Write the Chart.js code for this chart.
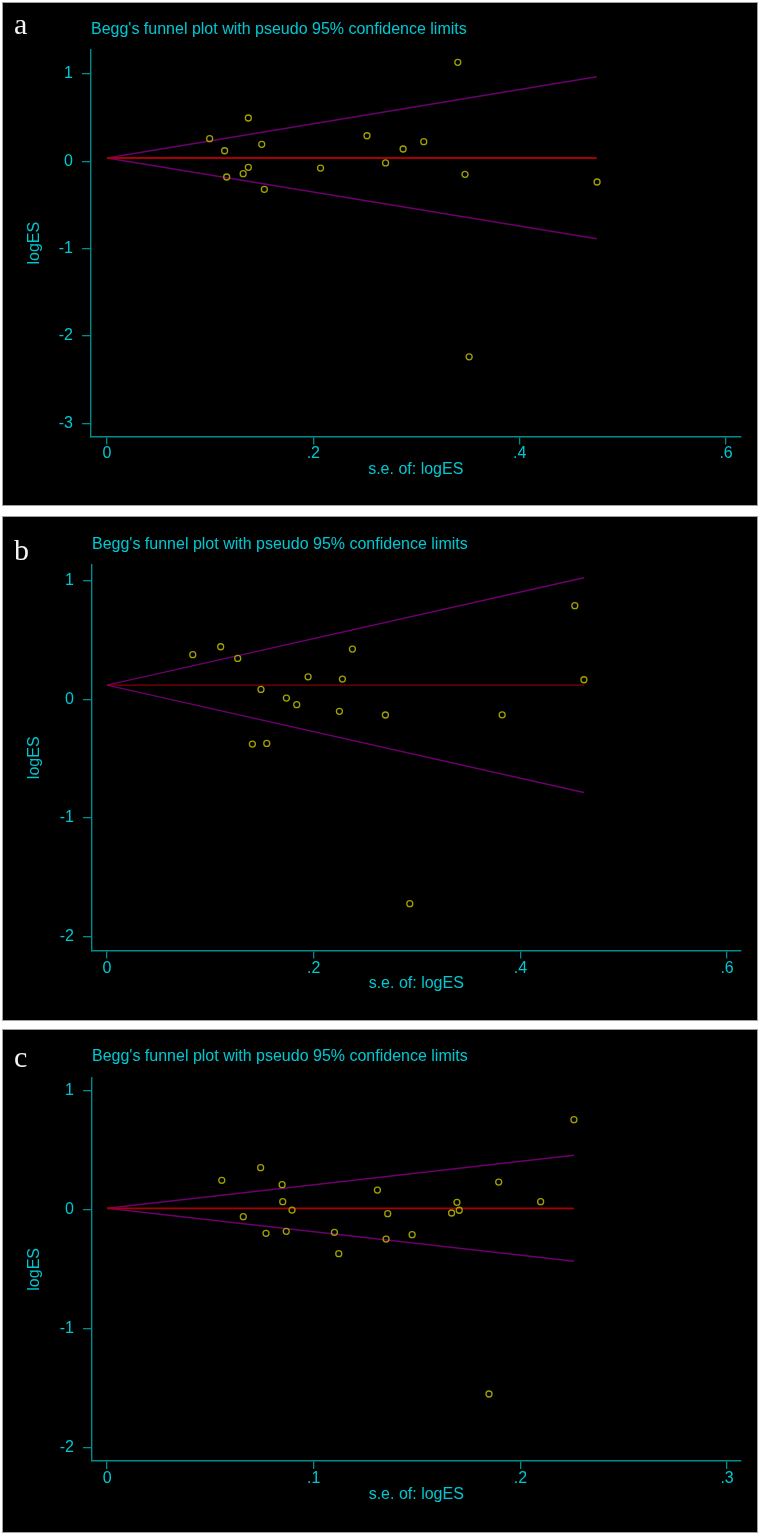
<!DOCTYPE html>
<html>
<head>
<meta charset="utf-8">
<script src="https://cdn.jsdelivr.net/npm/chart.js@4.4.1/dist/chart.umd.min.js"></script>
<style>
  body { margin: 0; background: #fff; width: 759px; height: 1534px; position: relative; overflow: hidden; }
  .panel { position: absolute; left: 2px; width: 754px; background: #000; border: 1px solid #a0a0a0; }
  canvas { position: absolute; left: 3px; }
  .letter { position: absolute; color: #f4f4f4; font-family: 'Liberation Serif', 'Times New Roman', serif; font-size: 30px; line-height: 30px; }
</style>
</head>
<body>
<div class="panel" style="top:2px;height:502px"></div>
<div class="panel" style="top:516px;height:503px"></div>
<div class="panel" style="top:1029px;height:502px"></div>
<canvas id="chartA" width="754" height="502" style="top:3px"></canvas>
<canvas id="chartB" width="754" height="503" style="top:517px"></canvas>
<canvas id="chartC" width="754" height="502" style="top:1030px"></canvas>
<div class="letter" style="left:14px;top:9px">a</div>
<div class="letter" style="left:14px;top:535px">b</div>
<div class="letter" style="left:14px;top:1042px">c</div>
<script>
// panel a
var seA = [0.0995, 0.114, 0.137, 0.150, 0.116, 0.132, 0.137, 0.1525, 0.207, 0.252, 0.340, 0.287, 0.307, 0.270, 0.347, 0.475, 0.351];
var esA = [0.259, 0.121, 0.496, 0.195, -0.180, -0.142, -0.069, -0.321, -0.077, 0.293, 1.134, 0.141, 0.225, -0.019, -0.149, -0.237, -2.24];
var limSeA = [0, 0.4746];
var midA = [0.038, 0.038];
var upA = [0.038, 0.969];
var lowA = [0.038, -0.887];
var xTicksA = [0, 0.2, 0.4, 0.6];
var xLabelsA = ['0', '.2', '.4', '.6'];
var yTicksA = [-3, -2, -1, 0, 1];
var yLabelsA = ['-3', '-2', '-1', '0', '1'];

// panel b
var seB = [0.083, 0.110, 0.1265, 0.149, 0.1736, 0.1836, 0.1946, 0.2278, 0.2375, 0.2249, 0.1407, 0.1546, 0.4527, 0.4615, 0.2694, 0.3824, 0.293];
var esB = [0.376, 0.443, 0.345, 0.084, 0.011, -0.045, 0.190, 0.171, 0.424, -0.101, -0.377, -0.371, 0.789, 0.165, -0.132, -0.130, -1.722];
var limSeB = [0, 0.4615];
var midB = [0.120, 0.120];
var upB = [0.120, 1.025];
var lowB = [0.120, -0.784];
var xTicksB = [0, 0.2, 0.4, 0.6];
var xLabelsB = ['0', '.2', '.4', '.6'];
var yTicksB = [-2, -1, 0, 1];
var yLabelsB = ['-2', '-1', '0', '1'];

// panel c
var seC = [0.0555, 0.0743, 0.0847, 0.0850, 0.0895, 0.0659, 0.0769, 0.0867, 0.110, 0.1121, 0.1308, 0.2259, 0.1895, 0.2098, 0.1693, 0.1704, 0.1667, 0.1358, 0.135, 0.1476, 0.1848];
var esC = [0.244, 0.350, 0.207, 0.064, -0.006, -0.062, -0.202, -0.185, -0.193, -0.373, 0.162, 0.753, 0.229, 0.064, 0.059, -0.008, -0.031, -0.037, -0.250, -0.213, -1.552];
var limSeC = [0, 0.2259];
var midC = [0.008, 0.008];
var upC = [0.008, 0.454];
var lowC = [0.008, -0.437];
var xTicksC = [0, 0.1, 0.2, 0.3];
var xLabelsC = ['0', '.1', '.2', '.3'];
var yTicksC = [-2, -1, 0, 1];
var yLabelsC = ['-2', '-1', '0', '1'];

var cyan = '#00c8d2';
var axisCol = '#008c8e';
var olive = '#a0a000';
var purple = '#6c006c';
var red = '#a80000';
var sans = "'Liberation Sans', Arial, sans-serif";

function pts(xs, ys) {
    var out = [];
    for (var i = 0; i < xs.length; i++) {
        out.push({ x: xs[i], y: ys[i] });
    }
    return out;
}

function lineSet(xs, ys, color, width) {
    return {
        data: pts(xs, ys),
        showLine: true,
        borderColor: color,
        borderWidth: width,
        pointRadius: 0,
        fill: false
    };
}

function drawFunnel(id, se, es, limSe, mid, up, low, xTicks, xLabels, yTicks, yLabels, box) {
    var ctx = document.getElementById(id).getContext('2d');
    return new Chart(ctx, {
        type: 'scatter',
        data: {
            datasets: [{
                data: pts(se, es),
                pointStyle: 'circle',
                pointRadius: 3,
                pointBorderWidth: 1.3,
                borderColor: olive,
                backgroundColor: 'rgba(0,0,0,0)'
            },
            lineSet(limSe, mid, red, box.midWidth),
            lineSet(limSe, up, purple, 1.5),
            lineSet(limSe, low, purple, 1.5)]
        },
        options: {
            responsive: false,
            animation: false,
            layout: { padding: { left: 0, top: 0, right: 16.5, bottom: box.padBottom } },
            plugins: {
                legend: { display: false },
                tooltip: { enabled: false },
                title: {
                    display: true,
                    text: "Begg's funnel plot with pseudo 95% confidence limits",
                    align: 'start',
                    fullSize: false,
                    color: cyan,
                    font: { family: sans, size: 16, weight: 'normal' },
                    padding: { top: box.titleTop, bottom: box.titleBottom }
                }
            },
            scales: {
                x: {
                    type: 'linear',
                    min: box.xmin,
                    max: box.xmax,
                    afterFit: function (s) { s.height = 50; },
                    afterBuildTicks: function (s) { s.ticks = xTicks.map(function (v) { return { value: v }; }); },
                    ticks: {
                        callback: function (v, i) { return xLabels[i]; },
                        color: cyan,
                        font: { family: sans, size: 16 },
                        padding: 0,
                        maxRotation: 0,
                        autoSkip: false
                    },
                    grid: { drawOnChartArea: false, drawTicks: true, tickLength: 8, color: axisCol, lineWidth: 1.3 },
                    border: { display: true, color: axisCol, width: 1.4 },
                    title: { display: true, text: 's.e. of: logES', color: cyan, font: { family: sans, size: 16 }, padding: { top: 0, bottom: 7 } }
                },
                y: {
                    type: 'linear',
                    min: box.ymin,
                    max: box.ymax,
                    afterFit: function (s) { s.width = box.yWidth; },
                    afterBuildTicks: function (s) { s.ticks = yTicks.map(function (v) { return { value: v }; }); },
                    ticks: {
                        callback: function (v, i) { return yLabels[i]; },
                        color: cyan,
                        font: { family: sans, size: 16 },
                        padding: 9,
                        autoSkip: false
                    },
                    grid: { drawOnChartArea: false, drawTicks: true, tickLength: 9, color: axisCol, lineWidth: 1.3 },
                    border: { display: true, color: axisCol, width: 1.4 },
                    title: { display: true, text: 'logES', color: cyan, font: { family: sans, size: 16 }, padding: { top: 22.4, bottom: 0 } }
                }
            }
        }
    });
}

var chartA = drawFunnel('chartA', seA, esA, limSeA, midA, upA, lowA, xTicksA, xLabelsA, yTicksA, yLabelsA,
    { xmin: -0.0155, xmax: 0.614, ymin: -3.151, ymax: 1.275, yWidth: 88, padBottom: 18.6, titleTop: 17.4, titleBottom: 10.4, midWidth: 1.8 });
var chartB = drawFunnel('chartB', seB, esB, limSeB, midB, upB, lowB, xTicksB, xLabelsB, yTicksB, yLabelsB,
    { xmin: -0.0145, xmax: 0.613, ymin: -2.117, ymax: 1.132, yWidth: 89, padBottom: 19.4, titleTop: 17.7, titleBottom: 11.1, midWidth: 1 });
var chartC = drawFunnel('chartC', seC, esC, limSeC, midC, upC, lowC, xTicksC, xLabelsC, yTicksC, yLabelsC,
    { xmin: -0.0073, xmax: 0.3065, ymin: -2.115, ymax: 1.106, yWidth: 89, padBottom: 21, titleTop: 17.1, titleBottom: 11.4, midWidth: 1.8 });
</script>
</body>
</html>
